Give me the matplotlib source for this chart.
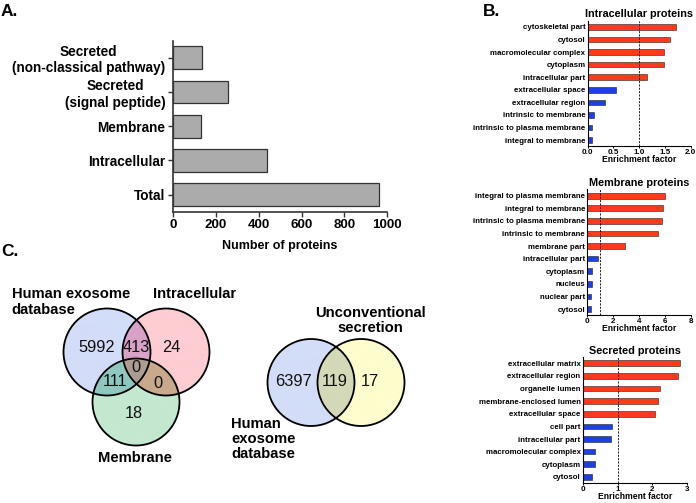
import numpy as np
import matplotlib
matplotlib.use("Agg")
import matplotlib.pyplot as plt
from matplotlib.patches import Circle
from matplotlib.colors import to_rgba

plt.rcParams['font.family'] = ['Liberation Sans', 'DejaVu Sans']

# ---------------- data ----------------
a_categories = ["Secreted\n(non-classical pathway)", "Secreted\n(signal peptide)",
                "Membrane", "Intracellular", "Total"]
a_counts = [136, 256, 129, 437, 960]
a_ticks = [0, 200, 400, 600, 800, 1000]

intra_terms = ["cytoskeletal part", "cytosol", "macromolecular complex", "cytoplasm",
               "intracellular part", "extracellular space", "extracellular region",
               "intrinsic to membrane", "intrinsic to plasma membrane", "integral to membrane"]
intra_values = [1.71, 1.59, 1.48, 1.48, 1.16, 0.56, 0.33, 0.12, 0.09, 0.08]
intra_ticks = [0.0, 0.5, 1.0, 1.5, 2.0]

memb_terms = ["integral to plasma membrane", "integral to membrane", "intrinsic to plasma membrane",
              "intrinsic to membrane", "membrane part", "intracellular part", "cytoplasm",
              "nucleus", "nuclear part", "cytosol"]
memb_values = [6.01, 5.86, 5.78, 5.50, 2.89, 0.83, 0.39, 0.34, 0.31, 0.26]
memb_ticks = [0, 2, 4, 6, 8]

secr_terms = ["extracellular matrix", "extracellular region", "organelle lumen",
              "membrane-enclosed lumen", "extracellular space", "cell part",
              "intracellular part", "macromolecular complex", "cytoplasm", "cytosol"]
secr_values = [2.79, 2.73, 2.23, 2.17, 2.07, 0.84, 0.81, 0.36, 0.34, 0.28]
secr_ticks = [0, 1, 2, 3]

# Venn counts
venn1_labels = ["Human exosome\ndatabase", "Intracellular", "Membrane"]
venn1_counts = {"E": 5992, "EI": 413, "I": 24, "EIM": 0, "EM": 111, "IM": 0, "M": 18}
venn2_labels = ["Human\nexosome\ndatabase", "Unconventional\nsecretion"]
venn2_counts = {"E": 6397, "EU": 119, "U": 17}

# ---------------- figure ----------------
W, H = 696, 503
fig = plt.figure(figsize=(W / 100, H / 100), dpi=100)


def px_axes(l, t, r, b):
    return fig.add_axes([l / W, 1 - b / H, (r - l) / W, (b - t) / H])


# ---- Panel A ----
axA = px_axes(173, 40.7, 387.3, 211.7)
ypos = np.arange(len(a_categories))[::-1]
axA.barh(ypos, a_counts, height=0.67, color="#ababab", edgecolor="#333333", linewidth=0.9)
axA.set_xlim(0, 1000)
axA.set_ylim(-0.5, 4.5)
axA.set_xticks(a_ticks)
axA.set_xticklabels([str(t) for t in a_ticks], fontsize=9.6, fontweight="bold")
axA.set_yticks(ypos)
axA.set_yticklabels(a_categories, fontsize=9.8, fontweight="bold")
for lab in axA.get_yticklabels():
    lab.set_multialignment("center")
for s in ["top", "right"]:
    axA.spines[s].set_visible(False)
for s in ["left", "bottom"]:
    axA.spines[s].set_linewidth(1.2)
    axA.spines[s].set_color("#333333")
axA.tick_params(axis="both", length=3.5, width=1.0, color="#333333", pad=2)
axA.set_xlabel("Number of proteins", fontsize=9.0, fontweight="bold", labelpad=6)

# ---- Panel B ----
RED = "#ff3a1c"
BLUE = "#1f3fe6"


def enrich_panel(box, terms, values, ticks, title):
    ax = px_axes(*box)
    y = np.arange(len(terms))
    cols = [RED if v > 1 else BLUE for v in values]
    ax.barh(y, values, height=0.45, color=cols, edgecolor="#202020", linewidth=0.4)
    ax.set_ylim(len(terms) - 0.5, -0.5)
    ax.set_xlim(ticks[0], ticks[-1])
    ax.axvline(1.0, color="black", linestyle=(0, (2.5, 1.5)), linewidth=0.6)
    ax.set_yticks(y)
    ax.set_yticklabels(terms, fontsize=5.7, fontweight="bold")
    ax.set_xticks(ticks)
    ax.set_xticklabels([("%.1f" % t) if isinstance(t, float) else str(t) for t in ticks],
                       fontsize=5.8, fontweight="bold")
    ax.tick_params(axis="y", length=0, pad=1.5)
    ax.tick_params(axis="x", length=1.6, width=0.7, pad=0.3)
    for s in ["top", "right"]:
        ax.spines[s].set_visible(False)
    for s in ["left", "bottom"]:
        ax.spines[s].set_linewidth(0.8)
    ax.set_title(title, fontsize=7.8, fontweight="bold", pad=2.5)
    ax.set_xlabel("Enrichment factor", fontsize=6.2, fontweight="bold", labelpad=-0.6)
    return ax


enrich_panel((587.5, 20.7, 690.7, 146.3), intra_terms, intra_values, intra_ticks,
             "Intracellular proteins")
enrich_panel((587.3, 189.4, 690.7, 315.3), memb_terms, memb_values, memb_ticks,
             "Membrane proteins")
enrich_panel((582.7, 357.0, 687.3, 483.2), secr_terms, secr_values, secr_ticks,
             "Secreted proteins")

# ---- Panel C (Venn diagrams) ----
axC = px_axes(0, 255, 480, 503)
axC.axis("off")

R = 43.5
c_E1 = (107.0, 352.0)
c_I1 = (166.0, 352.0)
c_M1 = (136.0, 402.0)
c_E2 = (311.0, 382.5)
c_U2 = (361.0, 382.5)

region_colors = {
    "E": "#d3ddf8", "I": "#fdcdd3", "M": "#c4e8d0",
    "EI": "#d9a2c8", "EM": "#8ec8c0", "IM": "#c9a98d", "EIM": "#ab9d92",
    "U": "#fdfdcd", "EU": "#d4d9b8",
}

xs = np.linspace(0, 480, 1441)
ys = np.linspace(255, 503, 745)
X, Y = np.meshgrid(xs, ys)


def inside(c):
    return (X - c[0]) ** 2 + (Y - c[1]) ** 2 <= R ** 2


img = np.zeros(X.shape + (4,))
inE, inI, inM = inside(c_E1), inside(c_I1), inside(c_M1)
inE2, inU = inside(c_E2), inside(c_U2)
masks = {
    "E": inE & ~inI & ~inM, "I": inI & ~inE & ~inM, "M": inM & ~inE & ~inI,
    "EI": inE & inI & ~inM, "EM": inE & inM & ~inI, "IM": inI & inM & ~inE,
    "EIM": inE & inI & inM,
}
masks2 = {"E": inE2 & ~inU, "U": inU & ~inE2, "EU": inE2 & inU}
for k, m in masks.items():
    img[m] = to_rgba(region_colors[k])
for k, m in masks2.items():
    img[m] = to_rgba(region_colors[k])
axC.imshow(img, extent=(0, 480, 503, 255), origin="upper", interpolation="antialiased",
           zorder=1)
axC.set_xlim(0, 480)
axC.set_ylim(503, 255)

for c in [c_E1, c_I1, c_M1, c_E2, c_U2]:
    axC.add_patch(Circle(c, R, fill=False, edgecolor="black", linewidth=1.3, zorder=3))

num_kw = dict(fontsize=11.8, ha="center", va="center", color="#111111", zorder=4)
venn1_pos = {"E": (97, 348), "EI": (136, 348), "I": (171, 348), "EIM": (136, 368),
             "EM": (115, 382), "IM": (158, 383), "M": (134, 413)}
for k, p in venn1_pos.items():
    axC.text(p[0], p[1], str(venn1_counts[k]), **num_kw)
venn2_pos = {"E": (293, 382), "EU": (335, 382), "U": (370, 382)}
for k, p in venn2_pos.items():
    axC.text(p[0], p[1], str(venn2_counts[k]), **num_kw)

lab_kw = dict(fontsize=10.6, fontweight="bold", zorder=4, linespacing=1.12)
axC.text(11.5, 302, venn1_labels[0], ha="left", va="center", **lab_kw)
axC.text(195, 294, venn1_labels[1], ha="center", va="center", **lab_kw)
axC.text(135, 458.5, venn1_labels[2], ha="center", va="center", **lab_kw)
axC.text(370, 320.5, venn2_labels[1], ha="center", va="center", **lab_kw)
axC.text(231.5, 439, venn2_labels[0], ha="left", va="center", **lab_kw)

# Panel letters
fig.text(1 / W, 1 - 11 / H, "A.", fontsize=12.5, fontweight="bold", va="center", ha="left")
fig.text(483 / W, 1 - 11 / H, "B.", fontsize=12.5, fontweight="bold", va="center", ha="left")
fig.text(1 / W, 1 - 252 / H, "C.", fontsize=12.5, fontweight="bold", va="center", ha="left")

fig.savefig("out.png", dpi=100)
